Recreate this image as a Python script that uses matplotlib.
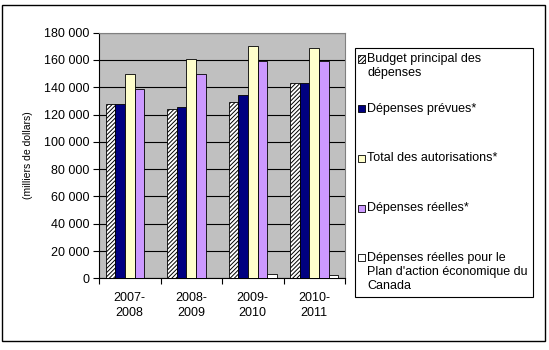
import matplotlib
matplotlib.use('Agg')
import matplotlib.pyplot as plt
from matplotlib.patches import Rectangle
import numpy as np

plt.rcParams['font.family'] = ['Liberation Sans', 'DejaVu Sans']
plt.rcParams['hatch.linewidth'] = 0.7

years = ['2007-\n2008', '2008-\n2009', '2009-\n2010', '2010-\n2011']
series_names = [
    'Budget principal des\ndépenses',
    'Dépenses prévues*',
    'Total des autorisations*',
    'Dépenses réelles*',
    'Dépenses réelles pour le\nPlan d\'action économique du\nCanada',
]
budget_principal = [127500, 124000, 129000, 143500]
depenses_prevues = [128000, 125500, 134000, 143500]
total_autorisations = [149500, 161000, 170500, 168500]
depenses_reelles = [138500, 149500, 159500, 159500]
plan_action = [0, 0, 2900, 2200]

values = [budget_principal, depenses_prevues, total_autorisations,
          depenses_reelles, plan_action]
colors = ['white', '#000080', '#FFFFCC', '#CC99FF', 'white']
hatches = ['////////', None, None, None, None]

W, H = 549, 350


def fx(px):
    return px / W


def fy(py):
    return 1 - py / H


fig = plt.figure(figsize=(W / 100, H / 100), dpi=100)
ax = fig.add_axes([fx(99), fy(278.3), fx(345) - fx(99), fy(32.7) - fy(278.3)])
ax.set_facecolor('#C0C0C0')

x = np.arange(len(years))
width = 0.156
for i, vals in enumerate(values):
    offs = (i - 2) * width
    ax.bar(x + offs, vals, width, color=colors[i], edgecolor='black',
           linewidth=0.6, hatch=hatches[i], label=series_names[i], zorder=3)

ax.set_xlim(-0.5, len(years) - 0.5)
ax.set_ylim(0, 180000)
yt = np.arange(0, 180001, 20000)
ax.set_yticks(yt)
ax.set_yticklabels(['{:,}'.format(v).replace(',', ' ') for v in yt], fontsize=9)
ax.yaxis.grid(True, color='black', linewidth=0.8, zorder=1)
ax.set_axisbelow(True)

ax.set_xticks(x)
ax.set_xticklabels(years, fontsize=9, linespacing=1.3)
ax.set_xticks(np.arange(-0.5, len(years)), minor=True)
ax.tick_params(axis='x', which='major', length=0, pad=10)
ax.tick_params(axis='x', which='minor', length=4, width=0.8, direction='out')
ax.tick_params(axis='y', length=4, width=0.8, direction='out', pad=3)

for s in ['top', 'right']:
    ax.spines[s].set_color('#808080')
for s in ['left', 'bottom']:
    ax.spines[s].set_color('black')
    ax.spines[s].set_linewidth(0.8)

ax.set_ylabel('(milliers de dollars)', fontsize=7.5, labelpad=8)

# legend drawn by hand, Excel style (evenly spaced slots)
fig.patches.append(Rectangle((fx(355), fy(297)), fx(533) - fx(355), fy(48) - fy(297),
                             transform=fig.transFigure, fill=False,
                             edgecolor='black', linewidth=0.8))
for i, name in enumerate(series_names):
    y0 = 59 + 49.7 * i
    fig.patches.append(Rectangle((fx(357.5), fy(y0 + 3.5)), fx(7), fy(0) - fy(7),
                                 transform=fig.transFigure, facecolor=colors[i],
                                 edgecolor='black', linewidth=0.6, hatch=hatches[i]))
    for k, line in enumerate(name.split('\n')):
        fig.text(fx(367), fy(y0 + 14 * k), line, fontsize=9, va='center', ha='left')

fig.patches.append(Rectangle((fx(2), fy(341)), fx(543), fy(5) - fy(341),
                             transform=fig.transFigure, fill=False,
                             edgecolor='black', linewidth=1.0))

fig.savefig('out.png', dpi=100)
